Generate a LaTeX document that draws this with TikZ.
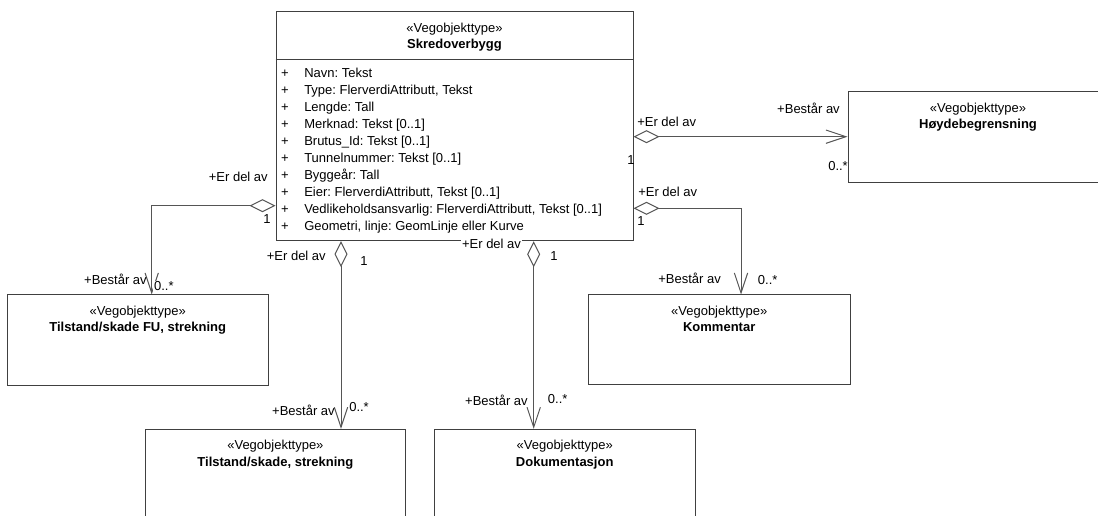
\documentclass[tikz,border=0pt]{standalone}
\usepackage{fontspec}
\setmainfont{Liberation Sans}
\usetikzlibrary{arrows.meta,fit,calc}
\definecolor{boxc}{HTML}{404040}
\definecolor{linec}{HTML}{555555}
\frenchspacing
\begin{document}
\begin{tikzpicture}[x=0.75pt,y=-0.75pt,
  every node/.style={font=\fontsize{9.75pt}{11pt}\selectfont, inner sep=0pt, text=black},
  box/.style={draw=boxc, line width=0.75pt, inner sep=0pt},
  assoc/.style={draw=linec, line width=0.75pt, {Diamond[open,length=19.5pt,width=9.75pt]}-{Straight Barb[length=15pt,width=10pt]}},
  txt/.style={anchor=base},
  bold/.style={anchor=base, font=\fontsize{9.75pt}{11pt}\selectfont\bfseries},
  lbl/.style={anchor=base west},
  lblr/.style={anchor=base east},
  wlbl/.style={fill=white, inner sep=0.6pt}
]
\useasboundingbox (0,0) rectangle (1098,516);
\fill[white] (0,0) rectangle (1098,516);
\clip (0,0) rectangle (1098,516);

% boxes
\node[box, fit={(276,11.7)(633,240.7)}] (main) {};
\node[box, fit={(848,91.7)(1110,182.3)}] (hoy) {};
\node[box, fit={(7,295)(268.3,385)}] (fu) {};
\node[box, fit={(588.3,295)(850,384.3)}] (kom) {};
\node[box, fit={(145,429.3)(405.7,540)}] (ts) {};
\node[box, fit={(434.3,429.3)(695,540)}] (dok) {};
\draw[boxc, line width=0.75pt] (main.west |- 0,60) -- (main.east |- 0,60);

% box texts
\node[txt] (mainS) at (454.5,32.2) {«Vegobjekttype»};
\node[bold] (mainN) at (454.5,48.5) {Skredoverbygg};
\node[txt] (hoyS) at (978,112.2) {«Vegobjekttype»};
\node[bold] (hoyN) at (978,128.5) {Høydebegrensning};
\node[txt] (fuS) at (137.7,315.5) {«Vegobjekttype»};
\node[bold] (fuN) at (137.7,331.8) {Tilstand/skade FU, strekning};
\node[txt] (komS) at (719.2,315.5) {«Vegobjekttype»};
\node[bold] (komN) at (719.2,331.8) {Kommentar};
\node[txt] (tsS) at (275.4,449.8) {«Vegobjekttype»};
\node[bold] (tsN) at (275.4,466.1) {Tilstand/skade, strekning};
\node[txt] (dokS) at (564.7,449.8) {«Vegobjekttype»};
\node[bold] (dokN) at (564.7,466.1) {Dokumentasjon};

% attributes
\foreach \t [count=\i from 0] in {{Navn: Tekst},{Type: FlerverdiAttributt, Tekst},{Lengde: Tall},{Merknad: Tekst [0..1]},{Brutus\_Id: Tekst [0..1]},{Tunnelnummer: Tekst [0..1]},{Byggeår: Tall},{Eier: FlerverdiAttributt, Tekst [0..1]},{Vedlikeholdsansvarlig: FlerverdiAttributt, Tekst [0..1]},{Geometri, linje: GeomLinje eller Kurve}}{
  \node[anchor=base] (p\i) at (285,77.5+17.05*\i) {+};
  \node[lbl] (a\i) at (304,77.5+17.05*\i) {\t};
}

% connectors
\draw[assoc] (main.east |- 0,136.7) -- (hoy.west |- 0,136.7);
\draw[assoc] (main.west |- 0,205.7) -| (fu.north -| 151.7,0);
\draw[assoc] (main.east |- 0,208.3) -| (kom.north -| 741,0);
\draw[assoc] (main.south -| 341,0) -- (ts.north -| 341,0);
\draw[assoc] (main.south -| 533.7,0) -- (dok.north -| 533.7,0);

% labels: Hoydebegrensning
\node[lbl] (l1a) at (637,127) {+Er del av};
\node[lbl] (l1b) at (627,164.5) {1};
\node[lblr] (l1c) at (840,114) {+Består av};
\node[lbl] (l1d) at (828,171) {0..*};
% Tilstand FU
\node[lblr] (l2a) at (268,181.5) {+Er del av};
\node[lbl] (l2b) at (263,223.5) {1};
\node[lblr] (l2c) at (147,284.5) {+Består av};
\node[lbl, wlbl] (l2d) at (153,291) {0..*};
% Kommentar
\node[lbl] (l3a) at (638,197) {+Er del av};
\node[lbl] (l3b) at (637,226) {1};
\node[lbl] (l3c) at (658,283.5) {+Består av};
\node[lbl] (l3d) at (757.7,284.5) {0..*};
% Tilstand/skade
\node[lblr] (l4a) at (326,261) {+Er del av};
\node[lbl] (l4b) at (360,266) {1};
\node[lblr] (l4c) at (335,415.5) {+Består av};
\node[lbl] (l4d) at (349,411) {0..*};
% Dokumentasjon
\node[lbl, wlbl] (l5a) at (461,248.8) {+Er del av};
\node[lbl] (l5b) at (550,260.5) {1};
\node[lblr] (l5c) at (528,405) {+Består av};
\node[lbl] (l5d) at (547.7,403.5) {0..*};
\end{tikzpicture}
\end{document}
